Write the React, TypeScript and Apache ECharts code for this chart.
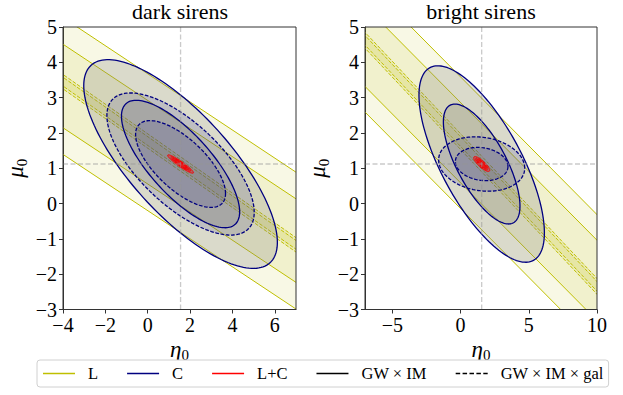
import React, { useEffect, useRef } from "react";
import * as echarts from "echarts";

// ---------------- data ----------------
const PANEL_TITLES = ["dark sirens", "bright sirens"];
const X_RANGES = [
  [-4, 7],
  [-7, 10],
];
const X_TICKS = [
  [-4, -2, 0, 2, 4, 6],
  [-5, 0, 5, 10],
];
const Y_RANGE = [-3, 5];
const Y_TICKS = [-3, -2, -1, 0, 1, 2, 3, 4, 5];

// fiducial values (eta_0, mu_0)
const FIDUCIAL_ETA = 1.55;
const FIDUCIAL_MU = 1.12;
// delta chi^2 for 1 sigma and 2 sigma contours (2 parameters)
const DELTA_CHI2 = [2.3, 6.17];

// C (navy) : [sigma_eta, sigma_mu, correlation] per panel
const C_GWxIM = [
  [1.84, 1.19, -0.75],
  [1.85, 1.12, -0.7],
];
const C_GWxIMxGAL = [
  [1.4, 0.81, -0.68],
  [1.27, 0.31, -0.15],
];
// L+C (red) : [sigma_eta, sigma_mu, correlation] per panel
const LC_GWxIM = [
  [0.245, 0.105, -0.94],
  [0.237, 0.085, -0.83],
];
const LC_GWxIMxGAL = [
  [0.19, 0.082, -0.94],
  [0.18, 0.068, -0.8],
];
// L (yellow) degenerate bands : [slope d mu / d eta, sigma of mu at fixed eta]
const L_GWxIM = [
  [-0.398, 0.78],
  [-0.39, 0.75],
];
const L_GWxIMxGAL = [
  [-0.42, 0.082],
  [-0.41, 0.09],
];

const LEGEND_NAMES = ["L", "C", "L+C", "GW × IM", "GW × IM × gal"];
const LEGEND_COLORS = ["#bfbf00", "#000080", "#ff0000", "#000000", "#000000"];
const LEGEND_DASHED = [false, false, false, false, true];

// ---------------- styles ----------------
const FONT = "'Liberation Serif', 'DejaVu Serif', serif";
const YELLOW = "#bfbf00";
const NAVY = "#000080";
const RED = "#ff0000";
const DASH = [3.7, 1.6];
const GRIDS = [
  { left: 63, top: 27, width: 233, height: 282.5 },
  { left: 365, top: 27, width: 232, height: 282.5 },
];
const TITLE_CENTERS = [180, 481];
const ICON_SOLID = "path://M0,0H32V1.5H0Z";
const ICON_DASHED =
  "path://M0,0H4.5V1.5H0Z M6.9,0H11.4V1.5H6.9Z M13.8,0H18.3V1.5H13.8Z M20.7,0H25.2V1.5H20.7Z M27.6,0H32V1.5H27.6Z";

const fmt = (v: number) => (v < 0 ? "\u2212" + Math.abs(v) : String(v));

function ellipseSeries(
  panel: number,
  sig: number[],
  stroke: string,
  fill: string,
  dashed: boolean,
  lineWidth: number
) {
  return {
    type: "custom",
    xAxisIndex: panel,
    yAxisIndex: panel,
    silent: true,
    clip: true,
    dimensions: ["eta", "mu", "s1", "s2", "rho", "dchi2"],
    encode: { x: "eta", y: "mu" },
    data: [...DELTA_CHI2]
      .reverse()
      .map((d2) => [FIDUCIAL_ETA, FIDUCIAL_MU, sig[0], sig[1], sig[2], d2]),
    renderItem: (_params: any, api: any) => {
      const cx = api.value(0);
      const cy = api.value(1);
      const sx = api.value(2);
      const sy = api.value(3);
      const r = api.value(4);
      const k = Math.sqrt(api.value(5));
      const pts: number[][] = [];
      const N = 160;
      for (let i = 0; i < N; i++) {
        const t = (2 * Math.PI * i) / N;
        const x = cx + k * sx * Math.cos(t);
        const y = cy + k * sy * (r * Math.cos(t) + Math.sqrt(1 - r * r) * Math.sin(t));
        pts.push(api.coord([x, y]));
      }
      return {
        type: "polygon",
        shape: { points: pts },
        style: {
          fill,
          stroke,
          lineWidth,
          lineDash: dashed ? DASH : null,
        },
      };
    },
  };
}

function bandSeries(panel: number, band: number[], dashed: boolean) {
  return {
    type: "custom",
    xAxisIndex: panel,
    yAxisIndex: panel,
    silent: true,
    clip: true,
    dimensions: ["eta", "mu", "slope", "w", "dchi2"],
    encode: { x: "eta", y: "mu" },
    data: [...DELTA_CHI2]
      .reverse()
      .map((d2) => [FIDUCIAL_ETA, FIDUCIAL_MU, band[0], band[1], d2]),
    renderItem: (_params: any, api: any) => {
      const cx = api.value(0);
      const cy = api.value(1);
      const m = api.value(2);
      const w = api.value(3) * Math.sqrt(api.value(4));
      const xs = [X_RANGES[panel][0] - 2, X_RANGES[panel][1] + 2];
      const up = xs.map((x) => api.coord([x, cy + m * (x - cx) + w]));
      const dn = xs.map((x) => api.coord([x, cy + m * (x - cx) - w]));
      const lineStyle = {
        stroke: YELLOW,
        lineWidth: 1,
        fill: "none",
        lineDash: dashed ? DASH : null,
      };
      return {
        type: "group",
        children: [
          {
            type: "polygon",
            shape: { points: [up[0], up[1], dn[1], dn[0]] },
            style: { fill: "rgba(191,191,0,0.1)" },
          },
          {
            type: "line",
            shape: { x1: up[0][0], y1: up[0][1], x2: up[1][0], y2: up[1][1] },
            style: lineStyle,
          },
          {
            type: "line",
            shape: { x1: dn[0][0], y1: dn[0][1], x2: dn[1][0], y2: dn[1][1] },
            style: lineStyle,
          },
        ],
      };
    },
  };
}

function fiducialSeries(panel: number) {
  return {
    type: "custom",
    xAxisIndex: panel,
    yAxisIndex: panel,
    silent: true,
    z: 5,
    dimensions: ["eta", "mu"],
    encode: { x: "eta", y: "mu" },
    data: [[FIDUCIAL_ETA, FIDUCIAL_MU]],
    renderItem: (params: any, api: any) => {
      const cs = params.coordSys;
      const p = api.coord([api.value(0), api.value(1)]);
      const st = {
        stroke: "rgba(150,150,150,0.5)",
        lineWidth: 1.3,
        lineDash: [5, 2.5],
        fill: "none",
      };
      return {
        type: "group",
        children: [
          {
            type: "line",
            shape: { x1: p[0], y1: cs.y, x2: p[0], y2: cs.y + cs.height },
            style: st,
          },
          {
            type: "line",
            shape: { x1: cs.x, y1: p[1], x2: cs.x + cs.width, y2: p[1] },
            style: st,
          },
          {
            type: "rect",
            shape: { x: cs.x, y: cs.y, width: cs.width, height: cs.height },
            style: { fill: "none", stroke: "#333", lineWidth: 1 },
          },
        ],
      };
    },
  };
}

function buildOption() {
  const series: any[] = [];
  for (let p = 0; p < 2; p++) {
    series.push(bandSeries(p, L_GWxIM[p], false));
    series.push(bandSeries(p, L_GWxIMxGAL[p], true));
    series.push(ellipseSeries(p, C_GWxIM[p], NAVY, "rgba(128,128,128,0.25)", false, 1.3));
    series.push(ellipseSeries(p, C_GWxIMxGAL[p], NAVY, "rgba(0,0,128,0.12)", true, 1.3));
    series.push(ellipseSeries(p, LC_GWxIM[p], RED, "rgba(255,0,0,0.3)", false, 1));
    series.push(ellipseSeries(p, LC_GWxIMxGAL[p], RED, "rgba(255,0,0,0.3)", true, 1));
    series.push(fiducialSeries(p));
  }
  LEGEND_NAMES.forEach((name, i) => {
    series.push({
      type: "line",
      name,
      xAxisIndex: 0,
      yAxisIndex: 0,
      data: [],
      symbol: "none",
      itemStyle: { color: LEGEND_COLORS[i] },
      lineStyle: { color: LEGEND_COLORS[i], width: 1.5 },
    });
  });

  const axisColor = "#333";
  const nameRich = {
    i: { fontFamily: FONT, fontStyle: "italic", fontSize: 23, color: "#000" },
    s: { fontFamily: FONT, fontSize: 15, color: "#000", verticalAlign: "bottom", padding: [0, 0, -2, 0] },
  };

  return {
    animation: false,
    backgroundColor: "#fff",
    title: PANEL_TITLES.map((t, i) => ({
      text: t,
      left: TITLE_CENTERS[i],
      textAlign: "center",
      top: 0,
      padding: 0,
      textStyle: { fontFamily: FONT, fontSize: 22, fontWeight: "normal", color: "#000" },
    })),
    legend: {
      data: LEGEND_NAMES.map((name, i) => ({
        name,
        icon: LEGEND_DASHED[i] ? ICON_DASHED : ICON_SOLID,
        itemStyle: { color: LEGEND_COLORS[i] },
      })),
      left: 37,
      top: 360,
      width: 578,
      orient: "horizontal",
      itemWidth: 32,
      itemHeight: 12,
      itemGap: 29,
      symbolKeepAspect: true,
      padding: [5, 5, 5, 6],
      borderColor: "#d0d0d0",
      borderWidth: 1,
      borderRadius: 3,
      backgroundColor: "#fff",
      selectedMode: false,
      textStyle: { fontFamily: FONT, fontSize: 16.5, color: "#000", padding: [0, 0, 0, 8] },
    },
    grid: GRIDS.map((g) => ({ ...g, containLabel: false, show: false })),
    xAxis: [0, 1].map((p) => ({
      type: "value",
      gridIndex: p,
      min: X_RANGES[p][0],
      max: X_RANGES[p][1],
      name: "{i|η}{s|0}",
      nameLocation: "middle",
      nameGap: 28,
      nameMoveOverlap: false,
      nameTextStyle: { rich: nameRich },
      axisLine: { show: true, onZero: false, lineStyle: { color: axisColor, width: 1 } },
      axisTick: { show: true, length: 4, customValues: X_TICKS[p], lineStyle: { color: axisColor } },
      axisLabel: {
        customValues: X_TICKS[p],
        formatter: (v: number) => fmt(v),
        fontFamily: FONT,
        fontSize: 20,
        color: "#000",
        margin: 5,
      },
      splitLine: { show: false },
    })),
    yAxis: [0, 1].map((p) => ({
      type: "value",
      gridIndex: p,
      min: Y_RANGE[0],
      max: Y_RANGE[1],
      name: "{i|μ}{s|0}",
      nameLocation: "middle",
      nameRotate: 90,
      nameGap: 36,
      nameMoveOverlap: false,
      nameTextStyle: { rich: nameRich },
      axisLine: { show: true, onZero: false, lineStyle: { color: axisColor, width: 1 } },
      axisTick: { show: true, length: 4, customValues: Y_TICKS, lineStyle: { color: axisColor } },
      axisLabel: {
        customValues: Y_TICKS,
        formatter: (v: number) => fmt(v),
        fontFamily: FONT,
        fontSize: 20,
        color: "#000",
        margin: 6,
      },
      splitLine: { show: false },
    })),
    series,
  };
}

export default function App() {
  const ref = useRef<HTMLDivElement>(null);
  useEffect(() => {
    document.body.style.margin = "0";
    if (!ref.current) return;
    const chart = echarts.init(ref.current, undefined, { renderer: "svg" });
    chart.setOption(buildOption() as any);
    return () => chart.dispose();
  }, []);
  return (
    <div
      ref={ref}
      style={{ width: 623, height: 395, position: "fixed", left: 0, top: 0, background: "#fff" }}
    />
  );
}
